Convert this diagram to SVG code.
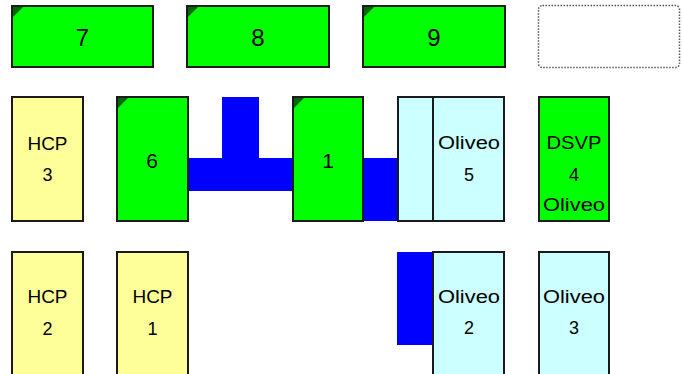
<svg xmlns="http://www.w3.org/2000/svg" width="682" height="374" viewBox="0 0 682 374">
<style>
.g{fill:#00ff00;stroke:#1a1a1a;stroke-width:2}
.y{fill:#ffff99;stroke:#1a1a1a;stroke-width:2}
.c{fill:#ccffff;stroke:#1a1a1a;stroke-width:2}
.tri{fill:#006600}
.b{fill:#0000ff}
text{font-family:"Liberation Sans",Arial,sans-serif;fill:#000;text-anchor:middle}
.big{font-size:24px}
.mid{font-size:21px}
.t{font-size:18px}
</style>
<rect width="682" height="374" fill="#fff"/>
<g id="connectors">
<polygon class="b" points="222,97 259,97 259,158 293,158 293,191 188,191 188,158 222,158"/>
<rect class="b" x="362" y="158" width="37" height="63"/>
<rect class="b" x="397" y="252" width="37" height="93"/>
</g>
<g id="n7"><rect class="g" x="12" y="6" width="141" height="61"/><polygon class="tri" points="13,7 23,7 13,17"/><text class="big" x="82.5" y="46">7</text></g>
<g id="n8"><rect class="g" x="187" y="6" width="142" height="61"/><polygon class="tri" points="188,7 198,7 188,17"/><text class="big" x="258" y="46">8</text></g>
<g id="n9"><rect class="g" x="363" y="6" width="142" height="61"/><polygon class="tri" points="364,7 374,7 364,17"/><text class="big" x="434" y="46">9</text></g>
<g id="empty"><rect x="538.5" y="5.5" width="141" height="62" rx="4" fill="none" stroke="#555" stroke-width="1.5" stroke-dasharray="1.5 1.5"/></g>
<g id="hcp3"><rect class="y" x="12" y="97" width="71" height="124"/><text class="t" x="47.5" y="150" textLength="40" lengthAdjust="spacingAndGlyphs">HCP</text><text class="t" x="47.5" y="181">3</text></g>
<g id="n6"><rect class="g" x="117" y="97" width="71" height="124"/><polygon class="tri" points="118,98 128,98 118,108"/><text class="mid" x="152" y="168">6</text></g>
<g id="n1"><rect class="g" x="293" y="97" width="70" height="124"/><polygon class="tri" points="294,98 304,98 294,108"/><text class="mid" x="328" y="168">1</text></g>
<g id="olv5a"><rect class="c" x="398" y="97" width="35" height="124"/></g>
<g id="olv5"><rect class="c" x="433" y="97" width="71" height="124"/><text class="t" x="469" y="149" textLength="62" lengthAdjust="spacingAndGlyphs">Oliveo</text><text class="t" x="469" y="181">5</text></g>
<g id="dsvp4"><rect class="g" x="539" y="97" width="70" height="124"/><text class="t" x="574" y="149" textLength="55" lengthAdjust="spacingAndGlyphs">DSVP</text><text class="t" x="574" y="181">4</text><text class="t" x="574" y="211" textLength="62" lengthAdjust="spacingAndGlyphs">Oliveo</text></g>
<g id="hcp2"><rect class="y" x="12" y="252" width="71" height="130"/><text class="t" x="47.5" y="303" textLength="40" lengthAdjust="spacingAndGlyphs">HCP</text><text class="t" x="47.5" y="335">2</text></g>
<g id="hcp1"><rect class="y" x="117" y="252" width="71" height="130"/><text class="t" x="152.5" y="303" textLength="40" lengthAdjust="spacingAndGlyphs">HCP</text><text class="t" x="152.5" y="335">1</text></g>
<g id="olv2"><rect class="c" x="433" y="252" width="71" height="130"/><text class="t" x="469" y="303" textLength="62" lengthAdjust="spacingAndGlyphs">Oliveo</text><text class="t" x="469" y="334">2</text></g>
<g id="olv3"><rect class="c" x="539" y="252" width="70" height="130"/><text class="t" x="574" y="303" textLength="62" lengthAdjust="spacingAndGlyphs">Oliveo</text><text class="t" x="574" y="334">3</text></g>
</svg>
